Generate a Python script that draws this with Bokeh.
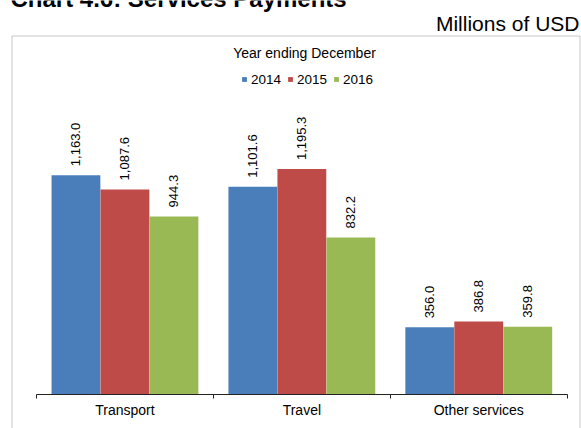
import math
from bokeh.plotting import figure
from bokeh.models import (ColumnDataSource, Range1d, LinearAxis, FixedTicker,
                          LabelSet, Label, BoxAnnotation, Legend, LegendItem)
from bokeh.transform import dodge
from bokeh.embed import file_html
from bokeh.resources import INLINE
from bokeh.core.properties import value

# ---- data ----
categories = ["Transport", "Travel", "Other services"]
years = ["2014", "2015", "2016"]
v2014 = [1163.0, 1101.6, 356.0]
v2015 = [1087.6, 1195.3, 386.8]
v2016 = [944.3, 832.2, 359.8]
series = [v2014, v2015, v2016]
colors = ["#4A7EBB", "#BE4B48", "#98B954"]
offsets = [-0.277, 0.0, 0.277]

FONT = "Liberation Sans"
W, H = 581, 428

# category slot centres (one unit per category)
centers = [i + 0.5 for i in range(len(categories))]
n = len(categories)

p = figure(width=W, height=H,
           x_range=Range1d(-0.2035, 3.0808),
           y_range=Range1d(-180.3, 2089.1),
           output_backend="svg", toolbar_location=None,
           x_axis_location=None, y_axis_location=None,
           min_border_left=0, min_border_right=0,
           min_border_top=0, min_border_bottom=0)
p.grid.visible = False
p.outline_line_color = None
p.background_fill_color = "white"
p.border_fill_color = "white"

renderers = []
for vals, col, off in zip(series, colors, offsets):
    src = ColumnDataSource(dict(x=centers, cat=categories, val=vals,
                                txt=[f"{v:,.1f}" for v in vals]))
    r = p.vbar(x=dodge("x", off), top="val", width=0.276,
               source=src, fill_color=col, line_color=None)
    renderers.append(r)
    p.add_layout(LabelSet(x=dodge("x", off), y="val", text="txt",
                          source=src, angle=math.pi / 2, text_align="left",
                          text_baseline="middle", y_offset=9,
                          text_font=value(FONT), text_font_size=value("13px"),
                          text_color="#000000"))

# category axis at value 0, with ticks on category boundaries
ax = LinearAxis(ticker=FixedTicker(ticks=centers, minor_ticks=list(range(n + 1))),
                fixed_location=0, bounds=(0, n),
                major_label_overrides={c: s for c, s in zip(centers, categories)},
                major_tick_line_color=None, major_tick_out=4, major_tick_in=0,
                minor_tick_out=4, minor_tick_in=0, minor_tick_line_color="#222222",
                axis_line_color="#222222", major_label_standoff=4,
                major_label_text_font=FONT, major_label_text_font_size="14px",
                major_label_text_color="#000000")
p.add_layout(ax, "below")

# outer chart border (screen units relative to frame bottom-left)
p.add_layout(BoxAnnotation(left=11.5, right=579.5, bottom=-10, top=392.5,
                           left_units="screen", right_units="screen",
                           top_units="screen", bottom_units="screen",
                           fill_color=None, fill_alpha=0,
                           line_color="#4d4d4d", line_width=1))

p.add_layout(Label(x=10, y=430, x_units="screen", y_units="screen",
                   text="Chart 4.6: Services Payments", text_align="left",
                   text_baseline="alphabetic", text_font=FONT,
                   text_font_style="bold",
                   text_font_size="24px", text_color="#000000"))

p.add_layout(Label(x=579, y=405, x_units="screen", y_units="screen",
                   text="Millions of USD", text_align="right",
                   text_baseline="alphabetic", text_font=FONT,
                   text_font_size="21px", text_color="#000000"))

p.add_layout(Label(x=304, y=376, x_units="screen", y_units="screen",
                   text="Year ending December", text_align="center",
                   text_baseline="alphabetic", text_font=FONT,
                   text_font_size="14px", text_color="#000000"))

legend = Legend(items=[LegendItem(label=y, renderers=[r]) for y, r in zip(years, renderers)],
                orientation="horizontal", location=(241, 341.5),
                glyph_width=6, glyph_height=6, label_standoff=4, spacing=6,
                padding=0, margin=0, border_line_color=None,
                background_fill_alpha=0, label_height=14,
                label_text_font=FONT, label_text_font_size="13.5px",
                label_text_color="#000000")
p.add_layout(legend)

open("out.html", "w").write(file_html(p, INLINE))
